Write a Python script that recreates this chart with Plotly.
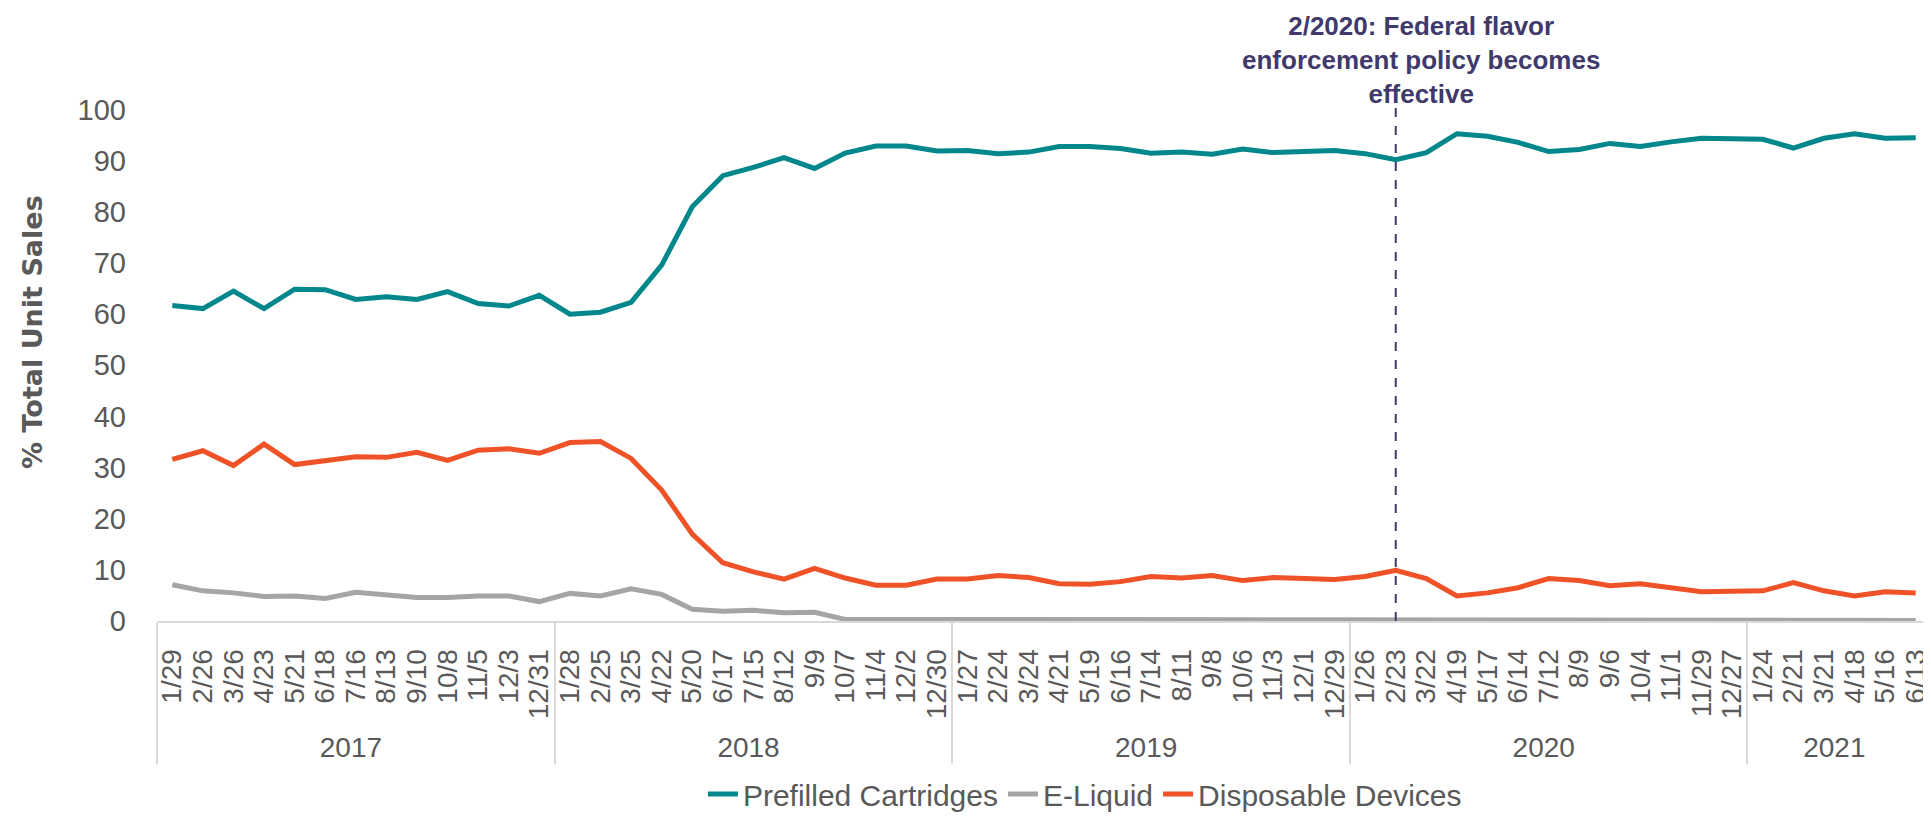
import plotly.graph_objects as go

# ---------------- data ----------------
year_labels = ["2017", "2018", "2019", "2020", "2021"]
dates_2017 = ["1/29", "2/26", "3/26", "4/23", "5/21", "6/18", "7/16", "8/13", "9/10", "10/8", "11/5", "12/3", "12/31"]
dates_2018 = ["1/28", "2/25", "3/25", "4/22", "5/20", "6/17", "7/15", "8/12", "9/9", "10/7", "11/4", "12/2", "12/30"]
dates_2019 = ["1/27", "2/24", "3/24", "4/21", "5/19", "6/16", "7/14", "8/11", "9/8", "10/6", "11/3", "12/1", "12/29"]
dates_2020 = ["1/26", "2/23", "3/22", "4/19", "5/17", "6/14", "7/12", "8/9", "9/6", "10/4", "11/1", "11/29", "12/27"]
dates_2021 = ["1/24", "2/21", "3/21", "4/18", "5/16", "6/13"]
dates_by_year = [dates_2017, dates_2018, dates_2019, dates_2020, dates_2021]

prefilled_cartridges = [
    61.7, 61.1, 64.5, 61.1, 64.9, 64.8, 62.9, 63.4, 62.9, 64.4, 62.1, 61.6, 63.7,
    60.0, 60.4, 62.3, 69.6, 81.0, 87.1, 88.7, 90.6, 88.5, 91.5, 92.9, 92.9, 91.9,
    92.0, 91.4, 91.7, 92.8, 92.8, 92.4, 91.5, 91.7, 91.3, 92.3, 91.6, 91.8, 92.0,
    91.4, 90.2, 91.6, 95.3, 94.8, 93.6, 91.8, 92.2, 93.4, 92.8, 93.7, 94.4, 94.3,
    94.2, 92.5, 94.4, 95.3, 94.4, 94.5,
]
e_liquid = [
    7.1, 5.9, 5.5, 4.8, 4.9, 4.4, 5.6, 5.2, 4.6, 4.6, 4.9, 4.9, 3.8,
    5.4, 4.9, 6.3, 5.2, 2.3, 1.9, 2.1, 1.6, 1.7, 0.3, 0.3, 0.3, 0.3,
    0.2, 0.2, 0.2, 0.2, 0.2, 0.3, 0.2, 0.2, 0.2, 0.2, 0.2, 0.2, 0.2,
    0.1, 0.1, 0.1, 0.1, 0.1, 0.1, 0.1, 0.1, 0.1, 0.1, 0.1, 0.1, 0.1,
    0.1, 0.1, 0.1, 0.1, 0.1, 0.1,
]
disposable_devices = [
    31.6, 33.3, 30.4, 34.6, 30.6, 31.3, 32.1, 32.0, 33.0, 31.4, 33.4, 33.7, 32.8,
    34.9, 35.1, 31.8, 25.6, 17.0, 11.4, 9.6, 8.2, 10.3, 8.4, 7.0, 7.0, 8.2,
    8.2, 8.9, 8.5, 7.3, 7.2, 7.7, 8.7, 8.4, 8.9, 7.9, 8.5, 8.3, 8.1,
    8.7, 9.9, 8.3, 4.9, 5.5, 6.5, 8.3, 7.9, 6.9, 7.3, 6.5, 5.7, 5.8,
    5.9, 7.5, 5.9, 4.9, 5.7, 5.5,
]
y_ticks = [0, 10, 20, 30, 40, 50, 60, 70, 80, 90, 100]
y_title = "% Total Unit Sales"
event_year, event_date = "2020", "2/23"
event_text = "2/2020: Federal flavor<br>enforcement policy becomes<br>effective"

# ---------------- build ----------------
x_year = [y for y, ds in zip(year_labels, dates_by_year) for _ in ds]
x_date = [d for ds in dates_by_year for d in ds]
event_idx = list(zip(x_year, x_date)).index((event_year, event_date))

TXT = "#595959"
FONT = "Liberation Sans, Arial, sans-serif"

fig = go.Figure()
series = [
    ("Prefilled Cartridges", prefilled_cartridges, "#00878C"),
    ("E-Liquid", e_liquid, "#A5A5A5"),
    ("Disposable Devices", disposable_devices, "#EF5226"),
]
for name, vals, col in series:
    fig.add_trace(go.Scatter(
        x=[x_year, x_date], y=vals, name=name, mode="lines",
        line=dict(color=col, width=5, shape="linear"),
    ))

fig.add_shape(type="line", xref="x", yref="y", x0=event_idx, x1=event_idx,
              y0=0, y1=100.6, line=dict(color="#3F3A6B", width=2, dash="dash"))
fig.add_annotation(x=event_idx, xref="x", y=1, yref="paper", yanchor="bottom",
                   xshift=25, yshift=-9, text="<b>" + event_text + "</b>", showarrow=False,
                   font=dict(family=FONT, size=26, color="#3F3A6B"), align="center")
# y-axis title
fig.add_annotation(x=-0.0699, xref="paper", y=0.557, yref="paper", xanchor="center",
                   yanchor="middle", textangle=-90, showarrow=False,
                   text="<b>" + y_title + "</b>",
                   font=dict(family="DejaVu Sans, Verdana, sans-serif", size=27, color=TXT))

# page body keeps an 8px default margin, so the figure is 8px smaller than the window
fig.update_layout(
    width=1923, height=812,
    margin=dict(l=149, r=0, t=94, b=199),
    paper_bgcolor="white", plot_bgcolor="white",
    font=dict(family=FONT, size=29, color=TXT),
    showlegend=True,
    legend=dict(orientation="h", xref="container", yref="container",
                x=0.560, xanchor="center", y=0.0, yanchor="bottom",
                font=dict(size=30, color=TXT), bgcolor="rgba(0,0,0,0)"),
)
fig.update_xaxes(
    type="multicategory", range=[-0.5, 57.5], tickmode="linear", tick0=0, dtick=1,
    tickangle=-90, showgrid=False, zeroline=False, automargin=False,
    showline=True, linecolor="#D9D9D9", linewidth=2,
    showdividers=True, dividercolor="#D9D9D9", dividerwidth=1.5,
    tickfont=dict(size=28, color=TXT), ticks="", ticklabelstandoff=15,
)
fig.update_yaxes(
    range=[0, 101.5], tickvals=y_ticks, showgrid=False, zeroline=False, showline=False,
    automargin=False, ticks="", ticklabelstandoff=30, tickfont=dict(size=29, color=TXT),
)

fig.write_html("out.html")
